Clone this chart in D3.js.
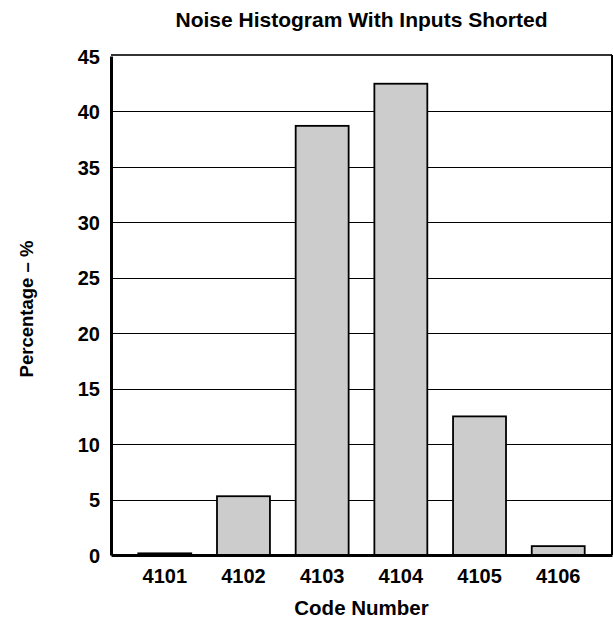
<!DOCTYPE html>
<html>
<head>
<meta charset="utf-8">
<script src="https://cdn.jsdelivr.net/npm/d3@7"></script>
<style>
  body { margin: 0; background: #fff; }
  text { font-family: "Liberation Sans", Arial, sans-serif; font-weight: bold; fill: #000; }
</style>
</head>
<body>
<div id="chart"></div>
<script>
// Histogram data
const codes = ["4101", "4102", "4103", "4104", "4105", "4106"];
const percents = [0.15, 5.3, 38.7, 42.5, 12.5, 0.8];
const yTicks = [0, 5, 10, 15, 20, 25, 30, 35, 40, 45];

const width = 613, height = 621;
const plot = { left: 111, right: 612, top: 55, bottom: 555 };

const svg = d3.select("#chart")
    .append("svg")
    .attr("width", width)
    .attr("height", height);

const x = d3.scaleBand()
    .domain(codes)
    .range([plot.left, plot.right])
    .paddingInner(0.327)
    .paddingOuter(0.347);

const y = d3.scaleLinear()
    .domain([0, 45])
    .range([plot.bottom, plot.top + 1]);

// Gridlines
svg.append("g")
    .selectAll("line")
    .data(yTicks.filter(d => d > 0 && d < 45))
    .enter()
    .append("line")
    .attr("x1", plot.left)
    .attr("x2", plot.right)
    .attr("y1", d => Math.round(y(d)) + 0.5)
    .attr("y2", d => Math.round(y(d)) + 0.5)
    .attr("stroke", "#000")
    .attr("stroke-width", 1.2);

// Bars
svg.append("g")
    .selectAll("rect")
    .data(codes)
    .enter()
    .append("rect")
    .attr("x", d => x(d))
    .attr("y", (d, i) => y(percents[i]))
    .attr("width", x.bandwidth())
    .attr("height", (d, i) => y(0) - y(percents[i]))
    .attr("fill", "#cccccc")
    .attr("stroke", "#000")
    .attr("stroke-width", 1.8);

// Frame
svg.append("line")
    .attr("x1", plot.left).attr("x2", plot.right)
    .attr("y1", plot.top).attr("y2", plot.top)
    .attr("stroke", "#333").attr("stroke-width", 2.2);
svg.append("line")
    .attr("x1", plot.right).attr("x2", plot.right)
    .attr("y1", plot.top).attr("y2", plot.bottom)
    .attr("stroke", "#000").attr("stroke-width", 2);

// Y axis
const yAxis = svg.append("g")
    .attr("transform", `translate(${plot.left},0)`)
    .call(d3.axisLeft(y).tickValues(yTicks).tickSize(0).tickPadding(11));
yAxis.select(".domain").attr("stroke", "#000").attr("stroke-width", 3);
yAxis.selectAll("text").style("font-size", "20px").attr("dy", "0.36em");

// X axis
const xAxis = svg.append("g")
    .attr("transform", `translate(0,${plot.bottom})`)
    .call(d3.axisBottom(x).tickSize(0).tickPadding(14));
xAxis.select(".domain").attr("stroke", "#000").attr("stroke-width", 3);
xAxis.selectAll("text").style("font-size", "20px");

// Title and axis labels
svg.append("text")
    .attr("x", (plot.left + plot.right) / 2)
    .attr("y", 27)
    .attr("text-anchor", "middle")
    .style("font-size", "21px")
    .text("Noise Histogram With Inputs Shorted");

svg.append("text")
    .attr("x", (plot.left + plot.right) / 2)
    .attr("y", 615)
    .attr("text-anchor", "middle")
    .style("font-size", "20.5px")
    .text("Code Number");

svg.append("text")
    .attr("transform", `translate(33,309) rotate(-90)`)
    .attr("text-anchor", "middle")
    .style("font-size", "18.5px")
    .text("Percentage – %");
</script>
</body>
</html>
